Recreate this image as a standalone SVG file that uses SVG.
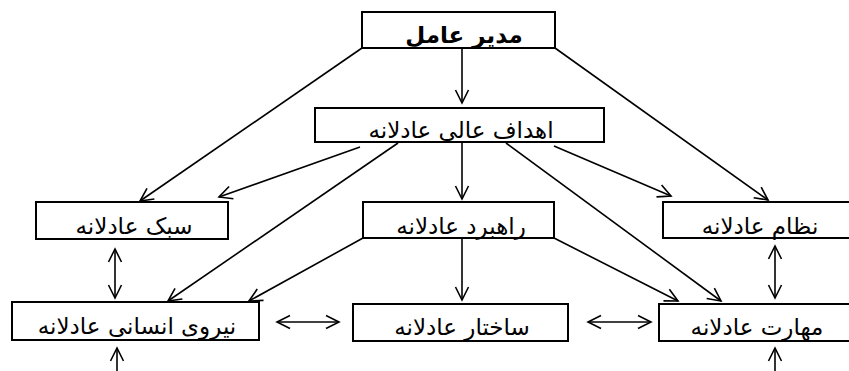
<svg xmlns="http://www.w3.org/2000/svg" width="849" height="371" viewBox="0 0 849 371">
<defs>
<marker id="ah" markerUnits="userSpaceOnUse" markerWidth="16" markerHeight="16" viewBox="0 0 16 16" refX="14" refY="8" orient="auto-start-reverse">
<path d="M1,1.5 L14,8 L1,14.5" fill="none" stroke="#000" stroke-width="1.6"/>
</marker>
<style>
.box{fill:#fff;stroke:#000;stroke-width:2}
.t{font-family:"DejaVu Sans","Noto Sans",sans-serif;font-size:23px;fill:#000;text-anchor:middle}
.b{font-weight:bold}
.c{stroke:#000;stroke-width:1.6;fill:none;marker-end:url(#ah)}
.d{marker-start:url(#ah)}
</style>
</defs>
<g id="connectors">
<line class="c" x1="462" y1="49" x2="462" y2="103"/>
<line class="c" x1="362" y1="48" x2="140" y2="201"/>
<line class="c" x1="555" y1="48" x2="768" y2="200"/>
<line class="c" x1="360" y1="147" x2="219" y2="197"/>
<line class="c" x1="554" y1="146" x2="671" y2="196"/>
<line class="c" x1="462" y1="143" x2="462" y2="199"/>
<line class="c" x1="398" y1="143" x2="168" y2="301"/>
<line class="c" x1="506" y1="143" x2="721" y2="301"/>
<line class="c" x1="363" y1="238" x2="249" y2="301"/>
<line class="c" x1="554" y1="238" x2="678" y2="301"/>
<line class="c" x1="462" y1="239" x2="462" y2="300"/>
<line class="c d" x1="115" y1="249" x2="115" y2="298"/>
<line class="c d" x1="775" y1="246" x2="775" y2="298"/>
<line class="c d" x1="277" y1="322" x2="339" y2="322"/>
<line class="c d" x1="588" y1="322" x2="651" y2="322"/>
<line class="c" x1="117" y1="371" x2="117" y2="348"/>
<line class="c" x1="775" y1="371" x2="775" y2="348"/>
</g>
<g id="n-modir">
<rect class="box" x="362" y="12" width="193" height="36"/>
<text class="t b" x="464" y="43" direction="rtl">مدیر عامل</text>
</g>
<g id="n-ahdaf">
<rect class="box" x="315" y="108" width="289" height="34"/>
<text class="t" x="461" y="138" direction="rtl">اهداف عالی عادلانه</text>
</g>
<g id="n-sabk">
<rect class="box" x="36" y="202" width="192" height="37"/>
<text class="t" x="134" y="234" direction="rtl">سبک عادلانه</text>
</g>
<g id="n-rahbord">
<rect class="box" x="363" y="202" width="191" height="36"/>
<text class="t" x="461" y="234" direction="rtl">راهبرد عادلانه</text>
</g>
<g id="n-nezam">
<rect class="box" x="663" y="202" width="195" height="36"/>
<text class="t" x="760" y="234" direction="rtl">نظام عادلانه</text>
</g>
<g id="n-niroo">
<rect class="box" x="12" y="302" width="247" height="38"/>
<text class="t" x="137" y="334" direction="rtl">نیروی انسانی عادلانه</text>
</g>
<g id="n-sakhtar">
<rect class="box" x="353" y="304" width="215" height="37"/>
<text class="t" x="462" y="335" direction="rtl">ساختار عادلانه</text>
</g>
<g id="n-maharat">
<rect class="box" x="659" y="304" width="197" height="37"/>
<text class="t" x="757" y="335" direction="rtl">مهارت عادلانه</text>
</g>
</svg>
